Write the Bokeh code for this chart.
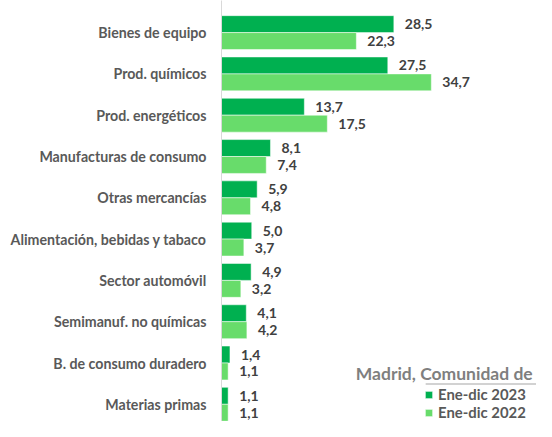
from bokeh.plotting import figure
from bokeh.models import (ColumnDataSource, Range1d, FixedTicker, Label, Legend,
                          LegendItem, BoxAnnotation)
from bokeh.transform import dodge
from bokeh.core.properties import value
from bokeh.embed import file_html
from bokeh.resources import INLINE

categories = ["Bienes de equipo", "Prod. químicos", "Prod. energéticos",
              "Manufacturas de consumo", "Otras mercancías",
              "Alimentación, bebidas y tabaco", "Sector automóvil",
              "Semimanuf. no químicas", "B. de consumo duradero", "Materias primas"]
v2023 = [28.5, 27.5, 13.7, 8.1, 5.9, 5.0, 4.9, 4.1, 1.4, 1.1]
v2022 = [22.3, 34.7, 17.5, 7.4, 4.8, 3.7, 3.2, 4.2, 1.1, 1.1]
series_names = ["Ene-dic 2023", "Ene-dic 2022"]
legend_title = "Madrid, Comunidad de"

DARK = "#00B050"
LIGHT = "#68DC6B"
FONT = "Lato"

def fmt(v):
    return f"{v:.1f}".replace(".", ",")

idx = list(range(len(categories)))
src = ColumnDataSource(dict(
    y=idx, cat=categories, a=v2023, b=v2022,
    la=[fmt(v) for v in v2023], lb=[fmt(v) for v in v2022]))

W, H = 536, 421
SX, SY = W / 552, H / 437   # reference pixel -> canvas pixel
LEFT = 228 * SX
PXU = 6.22 * SX             # pixels per unit along x
STEP = 41.3                 # pixels per category
TOP0 = 32.1                 # canvas y of first category center

x_end = (W - LEFT) / PXU
y_top = -TOP0 / STEP
y_bot = (H - TOP0) / STEP

p = figure(width=W, height=H, output_backend="svg", toolbar_location=None,
           x_range=Range1d(0, x_end), y_range=Range1d(y_bot, y_top),
           min_border_left=int(round(LEFT)), min_border_right=0, min_border_top=0,
           min_border_bottom=0)
p.outline_line_color = None
p.xgrid.visible = False
p.ygrid.visible = False
p.xaxis.visible = False

BH = 0.41
r1 = p.hbar(y=dodge("y", -BH / 2), right="a", left=0, height=BH, source=src,
            fill_color=DARK, line_color="white", line_alpha=0.5, line_width=1)
r2 = p.hbar(y=dodge("y", BH / 2), right="b", left=0, height=BH, source=src,
            fill_color=LIGHT, line_color="white", line_alpha=0.5, line_width=1)

for col, lcol, off in [("a", "la", -BH / 2), ("b", "lb", BH / 2)]:
    p.text(x=col, y=dodge("y", off), text=lcol, source=src, x_offset=11,
           text_align="left", text_baseline="middle",
           text_font=value(FONT), text_font_style="bold",
           text_font_size="14px", text_color="#404040")

ax = p.yaxis[0]
ax.ticker = FixedTicker(ticks=idx)
ax.major_label_overrides = {i: c for i, c in zip(idx, categories)}
ax.major_tick_out = 0
ax.major_tick_in = 0
ax.minor_tick_out = 0
ax.minor_tick_in = 0
ax.axis_line_color = "#D9D9D9"
ax.major_label_standoff = 15
ax.major_label_text_font = FONT
ax.major_label_text_font_style = "bold"
ax.major_label_text_font_size = "14.2px"
ax.major_label_text_color = "#595959"

# legend (positions given in canvas pixels, converted to data units)
def cx(px):
    return (px - LEFT) / PXU

def cy(py):
    return (py - TOP0) / STEP

p.add_layout(Label(x=cx(355.5), y=cy(372.5), text=legend_title,
                   text_font=FONT, text_font_style="bold", text_font_size="17.5px",
                   text_color="#7F7F7F", text_baseline="middle", text_align="left"))
p.add_layout(BoxAnnotation(left=cx(425.3), right=x_end + 5,
                           top=cy(383.0), bottom=cy(384.1),
                           fill_color="#A6A6A6", fill_alpha=1, line_color=None))

row_h = 18
first_center = 394
leg = Legend(items=[LegendItem(label=series_names[0], renderers=[r1]),
                    LegendItem(label=series_names[1], renderers=[r2])],
             location=(int(round(424.3 - LEFT)),
                       int(round(H - (first_center - row_h / 2 + 2 * row_h)))),
             orientation="vertical", glyph_width=9, glyph_height=9,
             label_standoff=5, label_height=row_h, spacing=0,
             padding=0, margin=0,
             border_line_color=None, background_fill_alpha=0,
             label_text_font=FONT, label_text_font_style="bold",
             label_text_font_size="14.9px", label_text_color="#595959")
p.add_layout(leg, "center")

open("out.html", "w").write(file_html(p, INLINE))
